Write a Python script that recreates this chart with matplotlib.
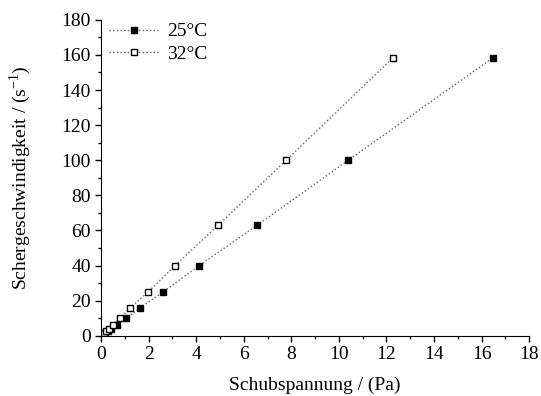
import matplotlib
matplotlib.use('Agg')
import matplotlib.pyplot as plt
from matplotlib.ticker import MultipleLocator

plt.rcParams['font.family'] = ['Liberation Serif', 'DejaVu Serif']

# Daten
rate = [1.0, 1.6, 2.5, 4.0, 6.3, 10, 16, 25, 40, 63, 100, 158.4]
stress_25 = [0.11, 0.17, 0.27, 0.42, 0.66, 1.05, 1.64, 2.61, 4.12, 6.56, 10.39, 16.48]
stress_32 = [0.08, 0.125, 0.20, 0.31, 0.49, 0.80, 1.22, 1.98, 3.11, 4.92, 7.78, 12.28]

fig = plt.figure(figsize=(5.41, 3.96), dpi=100)
ax = fig.add_axes([0.187, 0.152, 0.791, 0.798])

ax.plot(stress_25, rate, linestyle=':', color='#666666', linewidth=1.0,
        marker='s', markersize=4.5, markerfacecolor='black', markeredgecolor='black',
        label='25°C')
ax.plot(stress_32, rate, linestyle=':', color='#666666', linewidth=1.0,
        marker='s', markersize=4.5, markerfacecolor='white', markeredgecolor='black',
        markeredgewidth=1.0, label='32°C')

ax.set_xlim(0, 18)
ax.set_ylim(0, 180)
ax.xaxis.set_major_locator(MultipleLocator(2))
ax.xaxis.set_minor_locator(MultipleLocator(1))
ax.yaxis.set_major_locator(MultipleLocator(20))
ax.yaxis.set_minor_locator(MultipleLocator(10))
ax.tick_params(which='major', direction='out', length=4, width=1, labelsize=14)
ax.tick_params(which='minor', direction='out', length=2, width=1)

ax.spines['top'].set_visible(False)
ax.spines['right'].set_visible(False)

ax.set_xlabel('Schubspannung / (Pa)', fontsize=14, labelpad=10)
ax.set_ylabel('Schergeschwindigkeit / (s$^{\\mathregular{-1}}$)', fontsize=14, labelpad=20)

ax.legend(loc='upper left', frameon=False, fontsize=14, handlelength=2.6,
          borderaxespad=0.0, labelspacing=0.25, handletextpad=0.4,
          bbox_to_anchor=(0.0, 1.015))

fig.savefig('out.png', dpi=100)
